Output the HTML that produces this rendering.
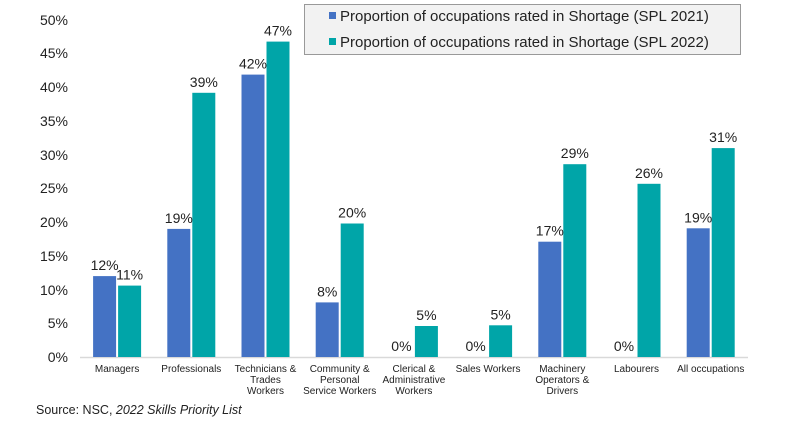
<!DOCTYPE html>
<html><head><meta charset="utf-8"><style>
body{margin:0;background:#fff;}
svg text{font-family:"Liberation Sans",sans-serif;fill:#222;}
</style></head><body>
<svg width="794" height="424" viewBox="0 0 794 424" xmlns="http://www.w3.org/2000/svg">
<g font-size="14" text-anchor="end">
<text x="68" y="362">0%</text><text x="68" y="328">5%</text><text x="68" y="295">10%</text><text x="68" y="261">15%</text><text x="68" y="227">20%</text><text x="68" y="193">25%</text><text x="68" y="160">30%</text><text x="68" y="126">35%</text><text x="68" y="92">40%</text><text x="68" y="58">45%</text><text x="68" y="25">50%</text>
</g>
<line x1="80" y1="357.5" x2="748" y2="357.5" stroke="#d9d9d9" stroke-width="1.5"/>
<g fill="#4472C4">
<rect x="93.1" y="276.1" width="23" height="80.9"/>
<rect x="167.3" y="228.9" width="23" height="128.1"/>
<rect x="241.5" y="74.6" width="23" height="282.4"/>
<rect x="315.7" y="302.4" width="23" height="54.6"/>
<rect x="538.3" y="241.7" width="23" height="115.3"/>
<rect x="686.7" y="228.3" width="23" height="128.7"/>
</g>
<g fill="#00A5A8">
<rect x="118.1" y="285.6" width="23" height="71.4"/>
<rect x="192.3" y="92.8" width="23" height="264.2"/>
<rect x="266.5" y="41.6" width="23" height="315.4"/>
<rect x="340.7" y="223.5" width="23" height="133.5"/>
<rect x="414.9" y="326" width="23" height="31"/>
<rect x="489.1" y="325.3" width="23" height="31.7"/>
<rect x="563.3" y="164.2" width="23" height="192.8"/>
<rect x="637.5" y="183.8" width="23" height="173.2"/>
<rect x="711.7" y="148.1" width="23" height="208.9"/>
</g>
<g font-size="14" text-anchor="middle">
<text x="104.6" y="270">12%</text><text x="129.6" y="279.5">11%</text>
<text x="178.8" y="223">19%</text><text x="203.8" y="87">39%</text>
<text x="253" y="68.5">42%</text><text x="278" y="35.5">47%</text>
<text x="327.2" y="296.5">8%</text><text x="352.2" y="217.5">20%</text>
<text x="401.4" y="351">0%</text><text x="426.4" y="320">5%</text>
<text x="475.6" y="351">0%</text><text x="500.6" y="319.3">5%</text>
<text x="549.8" y="235.7">17%</text><text x="574.8" y="158.2">29%</text>
<text x="624" y="351">0%</text><text x="649" y="177.8">26%</text>
<text x="698.2" y="222.3">19%</text><text x="723.2" y="142.1">31%</text>
</g>
<g font-size="10" text-anchor="middle">
<text x="117.1" y="372">Managers</text>
<text x="191.3" y="372">Professionals</text>
<text x="265.5" y="372">Technicians &amp;</text><text x="265.5" y="383">Trades</text><text x="265.5" y="394">Workers</text>
<text x="339.7" y="372">Community &amp;</text><text x="339.7" y="383">Personal</text><text x="339.7" y="394">Service Workers</text>
<text x="413.9" y="372">Clerical &amp;</text><text x="413.9" y="383">Administrative</text><text x="413.9" y="394">Workers</text>
<text x="488.1" y="372">Sales Workers</text>
<text x="562.3" y="372">Machinery</text><text x="562.3" y="383">Operators &amp;</text><text x="562.3" y="394">Drivers</text>
<text x="636.5" y="372">Labourers</text>
<text x="710.7" y="372">All occupations</text>
</g>
<rect x="304.5" y="4.5" width="436" height="50" fill="#f2f2f2" stroke="#999"/>
<rect x="329" y="12" width="7" height="7" fill="#4472C4"/>
<rect x="329" y="38" width="7" height="7" fill="#00A5A8"/>
<text x="340" y="21" font-size="15">Proportion of occupations rated in Shortage (SPL 2021)</text>
<text x="340" y="47" font-size="15">Proportion of occupations rated in Shortage (SPL 2022)</text>
<text x="36" y="414" font-size="12.5">Source: NSC, <tspan font-style="italic">2022 Skills Priority List</tspan></text>
</svg>
</body></html>
